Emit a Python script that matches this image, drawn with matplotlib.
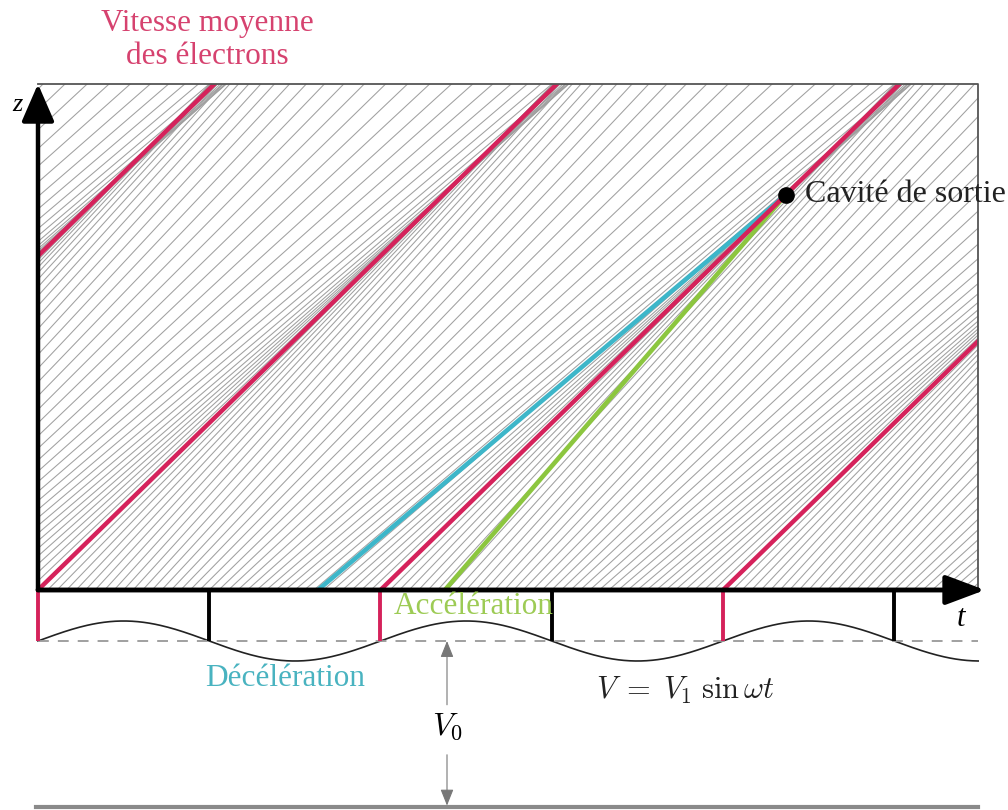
import matplotlib
matplotlib.use('Agg')
import matplotlib.pyplot as plt
from matplotlib.patches import Rectangle
import numpy as np

plt.rcParams['font.family'] = ['Liberation Serif', 'DejaVu Serif']
plt.rcParams['mathtext.fontset'] = 'cm'

# time in periods of the buncher voltage, z in units of v0*T
t_end = 2.745           # right edge of the diagram
z_top = 1.515           # top edge of the diagram
k_mod = 0.1345          # velocity modulation depth
lines_per_period = 36   # electrons drawn per period
bunch_t0 = [-1, 0, 1, 2]        # electrons leaving at the mean velocity
slow_t0 = 0.8175                # decelerated electron
fast_t0 = 1.188                 # accelerated electron
cavity_z = 1.183                # position of the output cavity
tick_t = [0, 0.5, 1, 1.5, 2, 2.5]

RED = '#d5225b'
BLUE = '#3db6c9'
GREEN = '#8cc63f'

# pixel layout of the original picture
T_PX, X0, Y0, Z_PX = 342.5, 38, 590, 334.0
def zp(ypix):
    return (Y0 - ypix) / Z_PX

fig = plt.figure(figsize=(10.08, 8.1), dpi=100)
ax = fig.add_axes([0, 0, 1, 1])
ax.set_xlim(-X0 / T_PX, (1008 - X0) / T_PX)
ax.set_ylim(zp(810), zp(0))
ax.axis('off')

clip = Rectangle((0, 0), t_end, z_top, transform=ax.transData)

# electron trajectories (Applegate diagram)
for t0 in np.arange(-2, t_end, 1 / lines_per_period):
    v = 1 + k_mod * np.sin(2 * np.pi * t0)
    t = np.array([t0, t_end])
    ln, = ax.plot(t, v * (t - t0), color='#a0a0a0', lw=0.75)
    ln.set_clip_path(clip)

# decelerated / accelerated electrons meeting at the output cavity
cavity_t = 1 + cavity_z
for t0, c in [(slow_t0, BLUE), (fast_t0, GREEN)]:
    ax.plot([t0, cavity_t], [0, cavity_z], color=c, lw=3.3, solid_capstyle='butt')

for t0 in bunch_t0:
    t = np.array([t0, t_end])
    ln, = ax.plot(t, t - t0, color=RED, lw=3.2)
    ln.set_clip_path(clip)

ax.plot(cavity_t, cavity_z, 'o', color='black', ms=11, zorder=5)
ax.text(cavity_t + 0.055, cavity_z, 'Cavité de sortie', fontsize=23,
        va='center', ha='left', color='#222222')

# frame
ax.plot([0, t_end, t_end], [z_top, z_top, 0], color='#555555', lw=1.3)

# axes with arrows
ax.annotate('', xy=(0, z_top), xytext=(0, 0),
            arrowprops=dict(arrowstyle='-|>,head_length=2.3,head_width=1.0',
                            mutation_scale=10, lw=3.2, color='black',
                            shrinkA=0, shrinkB=0))
ax.annotate('', xy=(t_end + 0.02, 0), xytext=(0, 0),
            arrowprops=dict(arrowstyle='-|>,head_length=2.4,head_width=0.9',
                            mutation_scale=10, lw=3.5, color='black',
                            shrinkA=0, shrinkB=0))
ax.text(-0.06, zp(105), 'z', fontsize=19, style='italic', ha='center', va='center')
ax.text(t_end - 0.05, zp(618), 't', fontsize=22, style='italic', ha='center', va='center')

# buncher voltage
v_base = zp(641)
v_amp = 20 / Z_PX
tt = np.linspace(0, t_end, 500)
ax.plot(tt, v_base + v_amp * np.sin(2 * np.pi * tt), color='#222222', lw=1.2)
ax.plot([0, t_end], [v_base, v_base], color='#999999', lw=1.3, dashes=(6, 5))
for tk in tick_t:
    c = RED if float(tk).is_integer() else 'black'
    ax.plot([tk, tk], [0, v_base], color=c, lw=2.8, solid_capstyle='butt')

# V0 arrow
xv = (447 - X0) / T_PX
v_bottom = zp(807)
ax.plot([-0.005, t_end], [v_bottom, v_bottom], color='#8a8a8a', lw=3)
ax.annotate('', xy=(xv, v_base), xytext=(xv, zp(727)),
            arrowprops=dict(arrowstyle='-|>,head_length=1.0,head_width=0.4',
                            mutation_scale=10, lw=0.8, color='#777777', shrinkA=16, shrinkB=0))
ax.annotate('', xy=(xv, v_bottom), xytext=(xv, zp(727)),
            arrowprops=dict(arrowstyle='-|>,head_length=1.0,head_width=0.4',
                            mutation_scale=10, lw=0.8, color='#777777', shrinkA=20, shrinkB=1))
ax.text(xv, zp(727), r'$V_0$', fontsize=23, ha='center', va='center')

# labels
ax.text((207 - X0) / T_PX, zp(40), 'Vitesse moyenne\ndes électrons', fontsize=22.5,
        color='#d6426f', ha='center', va='center', linespacing=1.2)
ax.text((474 - X0) / T_PX, zp(606), 'Accélération', fontsize=22.5,
        color='#9dcb55', ha='center', va='center')
ax.text((285 - X0) / T_PX, zp(678), 'Décélération', fontsize=22.5,
        color='#49b3c0', ha='center', va='center')
ax.text((685 - X0) / T_PX, zp(690), r'$V\;=\;V_1\;\sin\omega t$', fontsize=22,
        ha='center', va='center', color='#222222')

fig.savefig('out.png', dpi=100)
